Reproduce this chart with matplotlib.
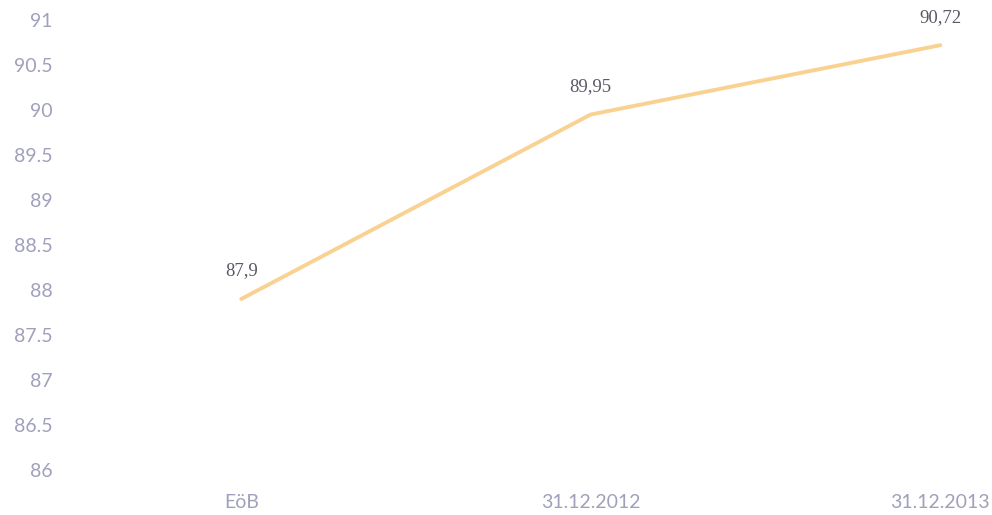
import matplotlib.pyplot as plt
from matplotlib.ticker import FixedLocator

# Chart data
categories = ["EöB", "31.12.2012", "31.12.2013"]
values = [87.9, 89.95, 90.72]
value_labels = ["87,9", "89,95", "90,72"]
y_ticks = [86, 86.5, 87, 87.5, 88, 88.5, 89, 89.5, 90, 90.5, 91]
y_tick_labels = ["86", "86.5", "87", "87.5", "88", "88.5", "89", "89.5", "90", "90.5", "91"]

tick_color = "#a0a0bc"
label_color = "#5a5a66"
line_color = "#f9d292"

fig = plt.figure(figsize=(9.92, 5.15), dpi=100)
# axes spans 86 (y=470px) to 91 (y=20px)
ax = fig.add_axes([0.06, 45 / 515, 0.94, 450 / 515])

x = list(range(len(categories)))
ax.plot(x, values, color=line_color, linewidth=2.8, solid_capstyle="round", clip_on=False)

for xi, v, lab in zip(x, values, value_labels):
    ax.annotate(lab, (xi, v), xytext=(0, 14), textcoords="offset points",
                ha="center", va="bottom", fontsize=13.5, color=label_color,
                family="Liberation Serif")

ax.set_ylim(86, 91)
ax.set_xlim(-0.52, 2.148)
ax.yaxis.set_major_locator(FixedLocator(y_ticks))
ax.set_yticklabels(y_tick_labels)
ax.set_xticks(x)
ax.set_xticklabels(categories)

for lab in ax.get_yticklabels() + ax.get_xticklabels():
    lab.set_color(tick_color)
    lab.set_fontsize(14)
    lab.set_family("Lato")

ax.tick_params(axis="both", length=0)
ax.tick_params(axis="y", pad=5)
ax.tick_params(axis="x", pad=17)
for s in ax.spines.values():
    s.set_visible(False)

fig.savefig("out.png", dpi=100, facecolor="white")
